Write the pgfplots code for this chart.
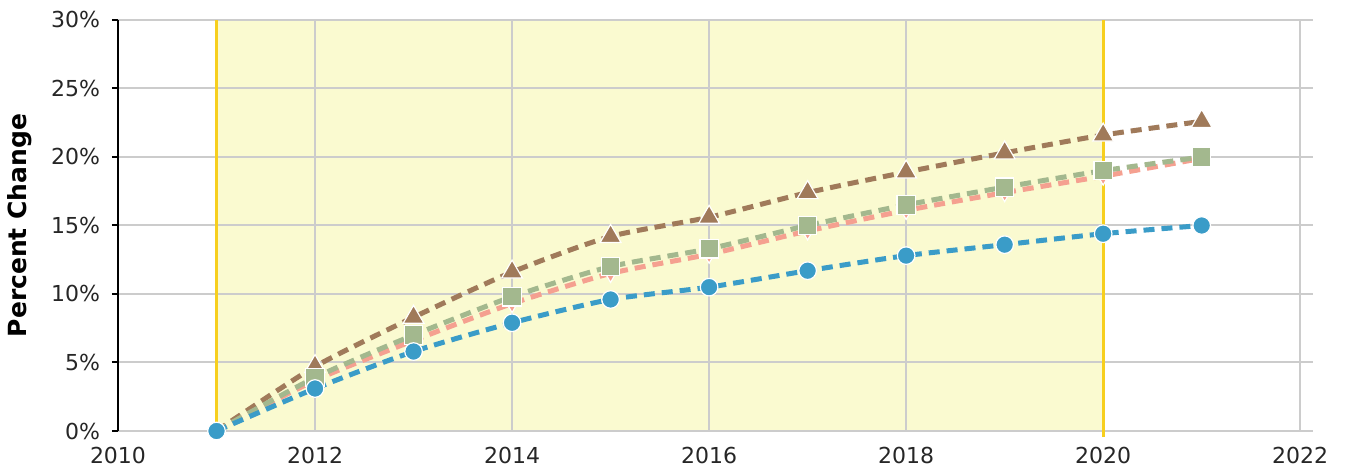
\documentclass[border=0pt]{standalone}
\usepackage{pgfplots}
\pgfplotsset{compat=1.18}
\usepackage{fontspec}
\setmainfont{DejaVu Sans}
\definecolor{cbrown}{HTML}{A07A5A}
\definecolor{cgreen}{HTML}{A3B88E}
\definecolor{cpink}{HTML}{F5A090}
\definecolor{cblue}{HTML}{3A9CC8}
\definecolor{band}{HTML}{FAFAD0}
\definecolor{gold}{HTML}{F7CF1E}
\definecolor{grid}{HTML}{CCCCCC}
\begin{document}
\begin{tikzpicture}
\begin{axis}[
  scale only axis,
  width=597.5pt, height=205.5pt,
  xmin=2010, xmax=2022.13,
  ymin=0, ymax=30,
  clip=false,
  axis x line=none,
  axis y line*=left,
  axis line style={black, line width=1pt},
  xtick={2010,2012,...,2022},
  ytick={0,5,...,30},
  yticklabel={\pgfmathprintnumber{\tick}\%},
  /pgf/number format/assume math mode=true,
  tick label style={font=\fontsize{11pt}{13pt}\selectfont, text=black!85},
  y tick label style={xshift=-2.5pt},
  major tick length=3pt,
  ytick style={black, line width=1pt},
  tick align=outside,
  ylabel={\bfseries Percent Change},
  ylabel style={font=\fontsize{12.5pt}{14pt}\selectfont, yshift=2.5pt},
]
% band
\fill[band] (axis cs:2011,0) rectangle (axis cs:2020,30);
% grid
\foreach \yy in {0,5,...,30} {
  \edef\tmp{\noexpand\draw[grid, line width=1pt] (axis cs:2010,\yy) -- (axis cs:2022.13,\yy);}
  \tmp
}
\foreach \xx in {2012,2014,...,2022} {
  \edef\tmp{\noexpand\draw[grid, line width=1pt] (axis cs:\xx,0) -- (axis cs:\xx,30);}
  \tmp
}
\draw[gold, line width=1.6pt] (axis cs:2011,-0.45) -- (axis cs:2011,30);
\draw[gold, line width=1.6pt] (axis cs:2020,-0.45) -- (axis cs:2020,30);
% x tick labels
\foreach \xx in {2010,2012,...,2022} {
  \edef\tmp{\noexpand\node[anchor=north, font=\noexpand\fontsize{11pt}{13pt}\noexpand\selectfont, text=black!85] at (axis cs:\xx,0) [yshift=-4.5pt] {\xx};}
  \tmp
}
\draw[black, line width=1pt] (axis cs:2010,0) -- (axis cs:2010,30);

\addplot[cbrown, line width=2.5pt, dash pattern=on 5.5pt off 3.5pt, smooth, tension=0.4,
  mark=triangle*, mark size=6pt, mark indices={2,...,11}, mark options={solid, fill=cbrown, draw=white, line width=0.6pt}]
  coordinates {(2011,0) (2012,4.7) (2013,8.3) (2014,11.6) (2015,14.2) (2016,15.6) (2017,17.4) (2018,18.9) (2019,20.3) (2020,21.6) (2021,22.6)};
\addplot[cpink, line width=2.5pt, dash pattern=on 5.5pt off 3.5pt, smooth, tension=0.4,
  mark=triangle*, mark size=4.5pt, mark indices={2,...,11}, mark options={solid, rotate=180, fill=cpink, draw=white, line width=0.6pt}]
  coordinates {(2011,0) (2012,3.7) (2013,6.6) (2014,9.3) (2015,11.5) (2016,12.9) (2017,14.6) (2018,16.1) (2019,17.4) (2020,18.6) (2021,19.9)};
\addplot[cgreen, line width=2.5pt, dash pattern=on 5.5pt off 3.5pt, smooth, tension=0.4,
  mark=square*, mark size=4.6pt, mark indices={2,...,11}, mark options={solid, fill=cgreen, draw=white, line width=0.6pt}]
  coordinates {(2011,0) (2012,3.9) (2013,7.0) (2014,9.8) (2015,12.0) (2016,13.3) (2017,15.0) (2018,16.5) (2019,17.8) (2020,19.0) (2021,20.0)};
\addplot[cblue, line width=2.5pt, dash pattern=on 5.5pt off 3.5pt, smooth, tension=0.4,
  mark=*, mark size=4.4pt, mark options={solid, fill=cblue, draw=white, line width=0.6pt}]
  coordinates {(2011,0) (2012,3.1) (2013,5.8) (2014,7.9) (2015,9.6) (2016,10.5) (2017,11.7) (2018,12.8) (2019,13.6) (2020,14.4) (2021,15.0)};
\end{axis}
\pgfresetboundingbox
\path[use as bounding box] (-59pt,-21.5pt) rectangle (614.5pt,215.5pt);
\end{tikzpicture}
\end{document}
